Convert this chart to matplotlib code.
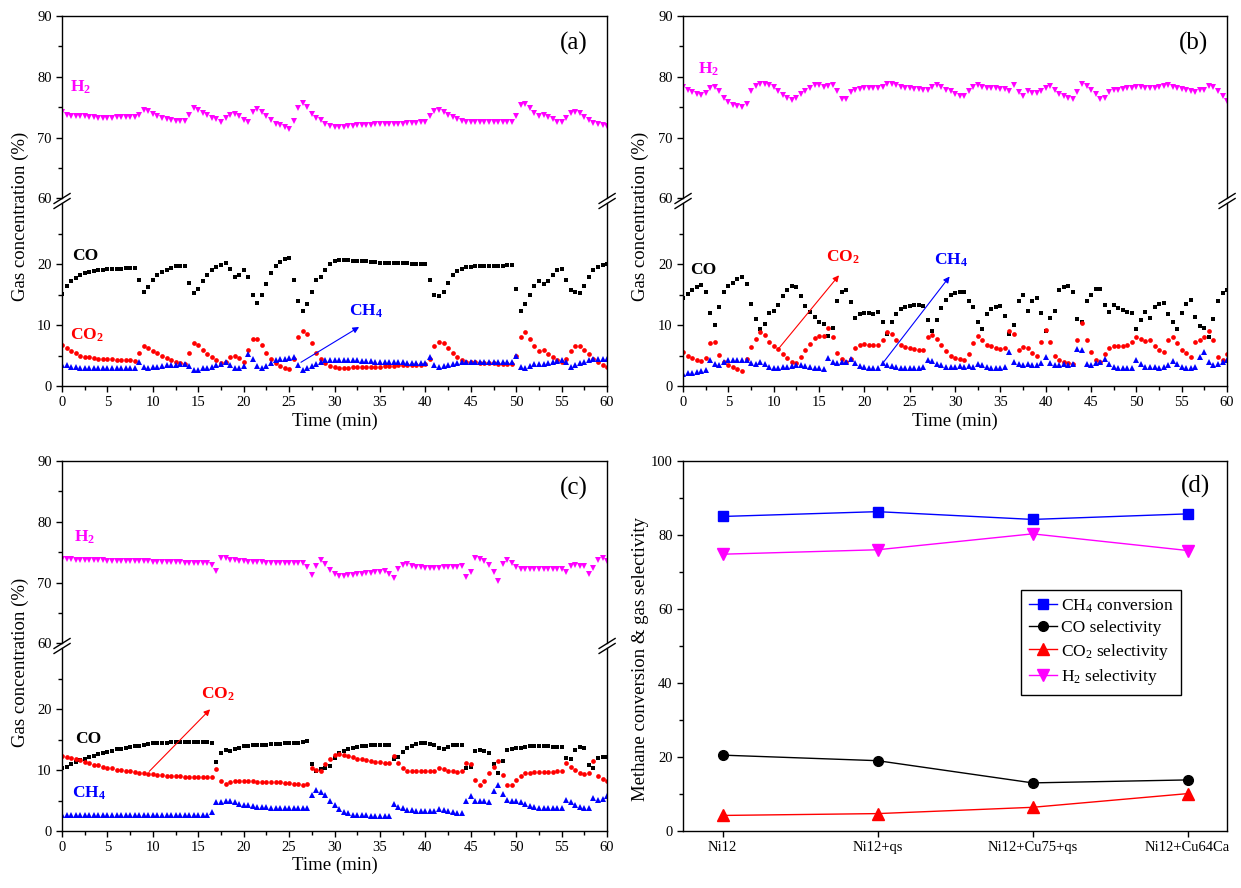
import numpy as np
import matplotlib.pyplot as plt
from matplotlib.lines import Line2D

plt.rcParams['font.family'] = ['Liberation Serif', 'DejaVu Serif']
plt.rcParams['mathtext.fontset'] = 'custom'
plt.rcParams['mathtext.rm'] = 'Liberation Serif'
plt.rcParams['mathtext.it'] = 'Liberation Serif:italic'
plt.rcParams['mathtext.bf'] = 'Liberation Serif:bold'

# Analyser readings, one every 0.5 min from 0 to 60 min (gas concentration, %)
time = np.linspace(0, 60, 121)

# (a) Ni12
a_h2 = [74.2, 73.8, 73.6, 73.6, 73.5, 73.5, 73.4, 73.4, 73.3, 73.3,
        73.3, 73.3, 73.4, 73.4, 73.4, 73.4, 73.4, 73.8, 74.5, 74.4,
        73.9, 73.6, 73.3, 73.1, 72.9, 72.8, 72.7, 72.7, 73.8, 74.9,
        74.6, 74.0, 73.7, 73.3, 73.0, 72.6, 73.2, 73.8, 73.9, 73.6,
        72.9, 72.6, 74.2, 74.7, 74.3, 73.5, 72.9, 72.3, 72.0, 71.8,
        71.5, 72.8, 74.9, 75.7, 75.0, 73.9, 73.3, 72.9, 72.3, 71.9,
        71.7, 71.8, 71.8, 71.9, 71.9, 72.0, 72.0, 72.1, 72.1, 72.2,
        72.2, 72.2, 72.3, 72.3, 72.3, 72.3, 72.4, 72.4, 72.4, 72.5,
        72.5, 73.5, 74.4, 74.6, 74.3, 73.8, 73.4, 73.1, 72.8, 72.6,
        72.6, 72.5, 72.5, 72.5, 72.5, 72.5, 72.5, 72.5, 72.5, 72.5,
        73.6, 75.3, 75.6, 74.8, 74.0, 73.6, 73.7, 73.4, 73.0, 72.6,
        72.5, 73.3, 74.1, 74.2, 74.0, 73.4, 72.9, 72.4, 72.2, 72.0,
        71.9]
a_co = [15.2, 16.5, 17.3, 17.8, 18.2, 18.5, 18.7, 18.9, 19.0, 19.1,
        19.2, 19.2, 19.3, 19.3, 19.4, 19.4, 19.4, 17.5, 15.5, 16.3,
        17.5, 18.2, 18.7, 19.1, 19.4, 19.7, 19.8, 19.8, 17.0, 15.3,
        16.0, 17.3, 18.3, 19.0, 19.5, 19.9, 20.2, 19.2, 17.9, 18.3,
        19.0, 18.0, 15.0, 13.7, 15.0, 16.8, 18.5, 19.7, 20.4, 20.8,
        21.0, 17.5, 14.0, 12.3, 13.5, 15.5, 17.5, 18.0, 19.0, 20.0,
        20.5, 20.7, 20.7, 20.7, 20.6, 20.6, 20.5, 20.5, 20.4, 20.4,
        20.3, 20.3, 20.2, 20.2, 20.2, 20.2, 20.2, 20.1, 20.1, 20.1,
        20.1, 17.5, 15.0, 14.8, 15.5, 17.0, 18.2, 18.9, 19.3, 19.5,
        19.6, 19.7, 19.7, 19.7, 19.8, 19.8, 19.8, 19.8, 19.9, 19.9,
        16.0, 12.3, 13.5, 15.0, 16.5, 17.3, 16.8, 17.2, 18.3, 19.0,
        19.2, 17.5, 15.8, 15.5, 15.3, 16.5, 18.0, 19.0, 19.6, 19.9,
        20.0]
a_co2 = [6.8, 6.2, 5.8, 5.4, 5.0, 4.8, 4.7, 4.6, 4.5, 4.5,
         4.4, 4.4, 4.3, 4.3, 4.2, 4.2, 4.1, 5.5, 6.5, 6.3,
         5.8, 5.4, 5.0, 4.6, 4.3, 4.0, 3.8, 3.7, 5.5, 7.0,
         6.7, 6.0, 5.3, 4.7, 4.2, 3.8, 4.0, 4.8, 5.0, 4.6,
         4.0, 6.0, 7.8, 7.7, 6.8, 5.5, 4.5, 3.8, 3.3, 3.0,
         2.8, 4.5, 8.0, 9.0, 8.5, 7.0, 5.5, 4.5, 3.8, 3.3,
         3.1, 3.0, 3.0, 3.0, 3.1, 3.1, 3.1, 3.1, 3.2, 3.2,
         3.2, 3.3, 3.3, 3.3, 3.4, 3.4, 3.4, 3.5, 3.5, 3.5,
         3.6, 4.5, 6.5, 7.2, 7.0, 6.3, 5.5, 4.8, 4.3, 4.0,
         3.9, 3.9, 3.8, 3.8, 3.8, 3.8, 3.7, 3.7, 3.7, 3.7,
         5.0, 8.0, 8.8, 7.8, 6.5, 5.8, 5.9, 5.3, 4.7, 4.2,
         4.0, 4.5, 5.8, 6.5, 6.5, 6.0, 5.2, 4.5, 3.9, 3.5,
         3.2]
a_ch4 = [3.5, 3.4, 3.2, 3.1, 3.0, 3.0, 3.0, 3.0, 3.0, 3.0,
         3.0, 3.0, 3.0, 3.0, 3.0, 3.0, 3.0, 3.9, 3.1, 3.0,
         3.1, 3.2, 3.3, 3.4, 3.5, 3.5, 3.6, 3.6, 3.3, 2.7,
         2.7, 2.9, 3.0, 3.2, 3.4, 3.6, 3.9, 3.5, 3.0, 3.0,
         3.3, 5.2, 4.5, 3.3, 3.0, 3.3, 3.8, 4.2, 4.4, 4.5,
         4.6, 4.8, 3.5, 2.7, 2.9, 3.3, 3.7, 4.0, 4.2, 4.3,
         4.3, 4.3, 4.3, 4.2, 4.2, 4.2, 4.1, 4.1, 4.1, 4.0,
         4.0, 4.0, 3.9, 3.9, 3.9, 3.9, 3.8, 3.8, 3.8, 3.8,
         3.8, 4.8, 3.5, 3.2, 3.3, 3.5, 3.7, 3.8, 3.9, 3.9,
         3.9, 3.9, 4.0, 4.0, 4.0, 4.0, 4.0, 4.0, 4.0, 4.0,
         4.9, 3.2, 3.0, 3.3, 3.6, 3.7, 3.6, 3.8, 4.0, 4.1,
         4.2, 4.0, 3.2, 3.4, 3.8, 4.0, 4.2, 4.4, 4.5, 4.5,
         4.5]

# (b) Ni12+qs
b_h2 = [78.4, 77.9, 77.5, 77.2, 77.0, 77.3, 78.1, 78.3, 77.7, 76.6,
        75.8, 75.4, 75.2, 75.1, 75.6, 77.7, 78.5, 78.9, 78.8, 78.6,
        78.3, 77.7, 77.0, 76.6, 76.2, 76.5, 77.2, 77.7, 78.2, 78.7,
        78.7, 78.4, 78.5, 78.6, 77.6, 76.4, 76.4, 77.5, 77.9, 78.0,
        78.1, 78.1, 78.1, 78.2, 78.4, 78.8, 78.9, 78.6, 78.4, 78.2,
        78.1, 78.0, 78.0, 77.9, 77.8, 78.4, 78.7, 78.3, 77.9, 77.6,
        77.2, 76.8, 76.9, 77.6, 78.3, 78.6, 78.4, 78.2, 78.1, 78.1,
        78.0, 78.0, 77.6, 78.6, 77.5, 76.8, 77.7, 77.4, 77.3, 77.6,
        78.2, 78.5, 77.9, 77.2, 76.8, 76.6, 76.4, 77.5, 78.9, 78.5,
        77.9, 77.2, 76.3, 76.5, 77.5, 77.8, 77.9, 78.0, 78.1, 78.2,
        78.3, 78.4, 78.2, 78.1, 78.1, 78.3, 78.5, 78.6, 78.4, 78.2,
        78.0, 77.9, 77.6, 77.5, 77.8, 77.8, 78.5, 78.3, 77.6, 76.8,
        76.0]
b_co = [14.4, 15.2, 15.8, 16.2, 16.6, 15.5, 12.0, 10.0, 13.0, 15.5,
        16.5, 17.0, 17.6, 18.0, 16.8, 13.5, 11.0, 9.3, 10.2, 12.0,
        12.4, 13.3, 14.8, 15.8, 16.5, 16.2, 14.8, 13.2, 12.2, 11.3,
        10.6, 10.2, 8.2, 9.5, 14.0, 15.5, 15.8, 13.8, 11.2, 11.8,
        12.0, 12.0, 11.9, 12.1, 10.5, 8.6, 10.5, 11.8, 12.6, 13.0,
        13.2, 13.3, 13.3, 13.2, 10.8, 9.0, 10.8, 12.8, 14.2, 14.9,
        15.3, 15.5, 15.5, 14.0, 13.0, 10.5, 9.4, 11.9, 12.7, 13.0,
        13.1, 11.5, 8.6, 10.0, 14.0, 15.0, 12.4, 14.0, 14.4, 12.0,
        9.0, 11.1, 12.4, 15.8, 16.3, 16.4, 15.5, 11.0, 10.5, 14.0,
        15.0, 16.0, 16.0, 13.3, 12.2, 13.3, 12.9, 12.5, 12.2, 12.0,
        9.4, 10.8, 12.2, 11.1, 13.0, 13.5, 13.6, 11.8, 10.5, 9.4,
        12.0, 13.5, 14.1, 11.3, 9.8, 9.5, 8.1, 11.0, 14.0, 15.3,
        15.8]
b_co2 = [5.6, 5.0, 4.6, 4.3, 4.1, 4.6, 7.0, 7.2, 5.1, 3.9,
         3.5, 3.1, 2.8, 2.5, 4.5, 6.4, 7.7, 8.9, 8.4, 7.2,
         6.6, 6.1, 5.3, 4.6, 4.0, 3.8, 4.8, 5.9, 6.9, 7.9,
         8.2, 8.3, 9.5, 8.1, 5.5, 4.4, 4.0, 4.4, 6.3, 6.8,
         6.9, 6.8, 6.8, 6.7, 7.5, 8.8, 8.5, 7.6, 6.8, 6.4,
         6.2, 6.1, 6.0, 6.0, 8.0, 8.4, 7.8, 6.8, 5.8, 5.0,
         4.6, 4.4, 4.2, 5.2, 7.0, 8.3, 7.5, 6.8, 6.5, 6.3,
         6.1, 6.2, 9.0, 8.5, 6.0, 6.4, 6.2, 5.5, 5.0, 7.3,
         9.2, 7.2, 4.9, 4.3, 4.0, 3.8, 3.7, 7.5, 10.4, 7.5,
         5.6, 4.2, 3.9, 5.3, 6.3, 6.5, 6.5, 6.6, 6.7, 7.2,
         8.1, 7.7, 7.4, 7.5, 6.6, 6.0, 5.6, 7.6, 8.0, 7.0,
         6.0, 5.4, 4.8, 7.2, 7.6, 8.0, 9.0, 7.5, 4.7, 4.2,
         5.3]
b_ch4 = [2.0, 2.1, 2.2, 2.3, 2.4, 2.6, 4.2, 3.6, 3.5, 4.0,
         4.2, 4.3, 4.3, 4.2, 4.2, 3.8, 3.6, 3.9, 3.6, 3.2,
         3.0, 3.0, 3.1, 3.1, 3.3, 3.4, 3.4, 3.3, 3.2, 3.0,
         2.9, 2.8, 4.6, 3.9, 3.8, 3.9, 4.0, 4.5, 3.8, 3.3,
         3.1, 3.0, 3.0, 2.9, 3.8, 3.5, 3.3, 3.1, 3.0, 2.9,
         3.0, 3.0, 3.0, 3.1, 4.3, 4.1, 3.7, 3.4, 3.2, 3.2,
         3.2, 3.3, 3.2, 3.3, 3.2, 3.7, 3.4, 3.1, 3.0, 3.0,
         3.0, 3.1, 5.6, 4.0, 3.6, 3.5, 3.6, 3.5, 3.5, 3.8,
         4.8, 3.8, 3.5, 3.5, 3.6, 3.5, 3.6, 6.1, 5.9, 3.6,
         3.5, 3.8, 3.9, 4.5, 3.6, 3.2, 3.0, 3.0, 2.9, 3.0,
         4.2, 3.6, 3.2, 3.1, 3.1, 3.0, 3.1, 3.4, 4.1, 3.6,
         3.2, 3.0, 3.0, 3.1, 4.8, 5.6, 3.9, 3.4, 3.6, 4.0,
         4.2]

# (c) Ni12+Cu75+qs
c_h2 = [73.9, 73.9, 73.9, 73.8, 73.8, 73.8, 73.8, 73.7, 73.7, 73.7,
        73.6, 73.6, 73.6, 73.5, 73.5, 73.5, 73.5, 73.5, 73.5, 73.5,
        73.4, 73.4, 73.4, 73.4, 73.4, 73.4, 73.4, 73.3, 73.3, 73.3,
        73.3, 73.3, 73.3, 72.9, 71.9, 74.1, 74.0, 73.8, 73.7, 73.6,
        73.5, 73.4, 73.4, 73.4, 73.4, 73.3, 73.3, 73.3, 73.3, 73.3,
        73.3, 73.3, 73.3, 73.3, 72.5, 71.3, 72.8, 73.8, 73.0, 72.0,
        71.4, 71.1, 71.1, 71.2, 71.3, 71.4, 71.5, 71.6, 71.6, 71.7,
        71.8, 71.9, 71.5, 70.7, 72.2, 72.9, 73.0, 72.8, 72.6, 72.5,
        72.4, 72.4, 72.4, 72.4, 72.5, 72.5, 72.6, 72.6, 72.7, 70.9,
        71.8, 74.1, 73.9, 73.5, 72.9, 71.8, 70.3, 73.0, 73.7, 73.2,
        72.5, 72.2, 72.2, 72.2, 72.2, 72.3, 72.3, 72.3, 72.3, 72.3,
        72.2, 71.8, 72.8, 72.9, 72.8, 72.7, 71.4, 72.4, 73.8, 74.0,
        73.5]
c_co = [10.3, 10.6, 11.0, 11.3, 11.6, 11.9, 12.2, 12.4, 12.6, 12.8,
        13.0, 13.2, 13.4, 13.5, 13.7, 13.8, 13.9, 14.0, 14.2, 14.3,
        14.4, 14.4, 14.5, 14.5, 14.6, 14.6, 14.6, 14.6, 14.6, 14.6,
        14.6, 14.6, 14.6, 14.4, 11.3, 12.8, 13.3, 13.1, 13.4, 13.7,
        13.9, 14.0, 14.1, 14.1, 14.2, 14.2, 14.3, 14.3, 14.3, 14.4,
        14.4, 14.5, 14.5, 14.7, 14.8, 11.0, 9.8, 10.2, 10.4, 10.7,
        12.0, 12.8, 13.2, 13.4, 13.6, 13.8, 13.9, 14.0, 14.1, 14.1,
        14.2, 14.2, 14.2, 11.8, 12.1, 13.0, 13.6, 14.0, 14.3, 14.4,
        14.4, 14.3, 14.2, 13.7, 13.4, 13.8, 14.1, 14.2, 14.2, 10.4,
        10.6, 13.1, 13.3, 13.2, 12.9, 11.0, 9.6, 11.5, 13.3, 13.5,
        13.6, 13.7, 13.8, 13.9, 13.9, 13.9, 13.9, 13.9, 13.8, 13.8,
        13.8, 12.0, 11.8, 13.3, 13.8, 13.6, 10.8, 10.4, 12.0, 12.2,
        12.1]
c_co2 = [12.4, 12.2, 12.0, 11.8, 11.6, 11.4, 11.1, 10.9, 10.8, 10.6,
         10.4, 10.3, 10.1, 10.0, 9.9, 9.8, 9.7, 9.6, 9.5, 9.4,
         9.3, 9.2, 9.2, 9.1, 9.0, 9.0, 9.0, 8.9, 8.9, 8.9,
         8.8, 8.8, 8.8, 8.9, 10.2, 8.2, 7.8, 8.1, 8.2, 8.2,
         8.2, 8.2, 8.2, 8.1, 8.1, 8.1, 8.0, 8.0, 8.0, 7.9,
         7.9, 7.8, 7.8, 7.6, 7.7, 10.3, 10.0, 9.8, 11.0, 11.8,
         12.5, 12.7, 12.5, 12.3, 12.1, 11.9, 11.8, 11.6, 11.5, 11.4,
         11.3, 11.2, 11.1, 12.3, 11.2, 10.4, 9.9, 9.9, 9.8, 9.8,
         9.8, 9.8, 9.9, 10.3, 10.2, 9.9, 9.8, 9.7, 9.8, 11.2,
         11.0, 8.4, 7.6, 8.2, 9.5, 10.6, 11.5, 9.2, 7.6, 7.5,
         8.4, 9.0, 9.5, 9.6, 9.7, 9.7, 9.7, 9.7, 9.7, 9.8,
         9.8, 11.1, 10.5, 10.0, 9.6, 9.3, 9.6, 11.5, 9.0, 8.5,
         8.2]
c_ch4 = [2.7, 2.7, 2.6, 2.6, 2.6, 2.6, 2.6, 2.6, 2.6, 2.6,
         2.6, 2.6, 2.6, 2.6, 2.6, 2.6, 2.6, 2.6, 2.6, 2.6,
         2.6, 2.6, 2.6, 2.6, 2.6, 2.6, 2.6, 2.6, 2.6, 2.6,
         2.6, 2.6, 2.7, 3.2, 4.8, 4.7, 4.9, 4.9, 4.7, 4.5,
         4.3, 4.2, 4.1, 4.0, 3.9, 3.9, 3.8, 3.8, 3.8, 3.8,
         3.8, 3.8, 3.8, 3.7, 3.8, 5.9, 6.8, 6.4, 5.9, 4.9,
         4.2, 3.6, 3.2, 2.9, 2.7, 2.6, 2.6, 2.6, 2.5, 2.5,
         2.5, 2.5, 2.5, 4.4, 4.0, 3.7, 3.5, 3.4, 3.3, 3.3,
         3.3, 3.3, 3.3, 3.6, 3.5, 3.3, 3.1, 3.0, 2.9, 5.0,
         5.8, 4.9, 4.9, 4.9, 4.8, 6.5, 7.6, 6.0, 5.1, 5.0,
         4.9, 4.7, 4.4, 4.1, 3.9, 3.8, 3.8, 3.7, 3.7, 3.7,
         3.8, 5.1, 4.8, 4.2, 3.9, 3.7, 3.8, 5.5, 5.1, 5.2,
         5.8]

# (d) summary over the catalysts
catalysts = ['Ni12', 'Ni12+qs', 'Ni12+Cu75+qs', 'Ni12+Cu64Ca']
ch4_conversion = [85.0, 86.3, 84.2, 85.7]
co_selectivity = [20.5, 19.0, 13.0, 13.8]
co2_selectivity = [4.2, 4.7, 6.4, 10.1]
h2_selectivity = [74.8, 76.0, 80.3, 75.8]

MAGENTA = '#ff00ff'
RED = '#ff0000'
BLUE = '#0000ff'
TICK_FS = 10.5
LABEL_FS = 13.5

fig = plt.figure(figsize=(12.41, 8.88), dpi=100)


def style_axis(ax):
    for s in ax.spines.values():
        s.set_linewidth(1.0)
    ax.tick_params(which='both', direction='out', labelsize=TICK_FS, width=1.0,
                   top=False, right=False)
    ax.tick_params(which='major', length=4.5, pad=3)
    ax.tick_params(which='minor', length=3)


def gas_panel(left, bottom, width, height, h2, co, co2, ch4, tag, notes, arrows):
    gap = 5 / 888
    half = (height - gap) / 2
    lo = fig.add_axes([left, bottom, width, half])
    hi = fig.add_axes([left, bottom + half + gap, width, half])

    hi.plot(time, h2, ls='none', marker='v', ms=4.8, color=MAGENTA, mew=0)
    lo.plot(time, co, ls='none', marker='s', ms=3.0, color='black', mew=0)
    lo.plot(time, co2, ls='none', marker='o', ms=3.4, color=RED, mew=0)
    lo.plot(time, ch4, ls='none', marker='^', ms=4.8, color=BLUE, mew=0)

    for ax in (lo, hi):
        style_axis(ax)
        ax.set_xlim(0, 60)
    lo.set_ylim(0, 30)
    hi.set_ylim(60, 90)
    lo.set_yticks([0, 10, 20])
    lo.set_yticks([5, 15, 25], minor=True)
    hi.set_yticks([60, 70, 80, 90])
    hi.set_yticks([65, 75, 85], minor=True)
    lo.set_xticks(np.arange(0, 61, 5))
    lo.set_xticks(np.arange(2.5, 60, 5), minor=True)
    hi.set_xticks([])
    hi.tick_params(which='both', bottom=False, labelbottom=False)
    lo.spines['top'].set_visible(False)
    hi.spines['bottom'].set_visible(False)
    lo.set_xlabel('Time (min)', fontsize=LABEL_FS, labelpad=2)

    # break marks on both spines
    dx, dy = 8 / 1241, 5 / 888
    for x in (left, left + width):
        for y in (bottom + half, bottom + half + gap):
            fig.add_artist(Line2D([x - dx, x + dx], [y - dy, y + dy],
                                  color='black', lw=1.0, transform=fig.transFigure))

    hi.text(56.3, 85.5, tag, fontsize=18, ha='center', va='center')
    for ax_name, x, y, txt, col in notes:
        ax = hi if ax_name == 'hi' else lo
        ax.text(x, y, txt, color=col, fontsize=12.5, fontweight='bold',
                ha='left', va='center')
    for (x0, y0), (x1, y1), col in arrows:
        lo.annotate('', xy=(x1, y1), xytext=(x0, y0),
                    arrowprops=dict(arrowstyle='-|>', color=col, lw=0.8,
                                    mutation_scale=9, shrinkA=0, shrinkB=0))
    return lo, hi


H2_TXT = r'H$_\mathregular{2}$'
CO2_TXT = r'CO$_\mathregular{2}$'
CH4_TXT = r'CH$_\mathregular{4}$'

gas_panel(0.0500, 0.5653, 0.4392, 0.4167, a_h2, a_co, a_co2, a_ch4, '(a)',
          [('hi', 0.9, 78.2, H2_TXT, MAGENTA),
           ('lo', 1.1, 21.3, 'CO', 'black'),
           ('lo', 0.9, 8.4, CO2_TXT, RED),
           ('lo', 31.6, 12.2, CH4_TXT, BLUE)],
          [((26.3, 3.9), (32.7, 9.7), BLUE)])

gas_panel(0.5504, 0.5653, 0.4384, 0.4167, b_h2, b_co, b_co2, b_ch4, '(b)',
          [('hi', 1.6, 81.3, H2_TXT, MAGENTA),
           ('lo', 0.8, 19.0, 'CO', 'black'),
           ('lo', 15.8, 21.2, CO2_TXT, RED),
           ('lo', 27.7, 20.7, CH4_TXT, BLUE)],
          [((10.4, 5.9), (17.2, 18.2), RED),
           ((22.1, 3.9), (29.4, 18.0), BLUE)])

gas_panel(0.0500, 0.0642, 0.4392, 0.4167, c_h2, c_co, c_co2, c_ch4, '(c)',
          [('hi', 1.3, 77.5, H2_TXT, MAGENTA),
           ('lo', 1.4, 15.1, 'CO', 'black'),
           ('lo', 15.3, 22.5, CO2_TXT, RED),
           ('lo', 1.1, 6.2, CH4_TXT, BLUE)],
          [((9.6, 9.8), (16.3, 20.0), RED)])

fig.text(0.016, 0.756, 'Gas concentration (%)', rotation=90, fontsize=LABEL_FS,
         ha='center', va='center')
fig.text(0.516, 0.756, 'Gas concentration (%)', rotation=90, fontsize=LABEL_FS,
         ha='center', va='center')
fig.text(0.016, 0.2545, 'Gas concentration (%)', rotation=90, fontsize=LABEL_FS,
         ha='center', va='center')

# (d) conversion and selectivity per catalyst
ax_d = fig.add_axes([0.5504, 0.0642, 0.4384, 0.4167])
cat = np.arange(len(catalysts))
ax_d.plot(cat, ch4_conversion, color=BLUE, marker='s', ms=7, lw=1,
          label=r'CH$_\mathregular{4}$ conversion')
ax_d.plot(cat, co_selectivity, color='black', marker='o', ms=7, lw=1,
          label='CO selectivity')
ax_d.plot(cat, co2_selectivity, color=RED, marker='^', ms=8, lw=1,
          label=r'CO$_\mathregular{2}$ selectivity')
ax_d.plot(cat, h2_selectivity, color=MAGENTA, marker='v', ms=8, lw=1,
          label=r'H$_\mathregular{2}$ selectivity')
style_axis(ax_d)
ax_d.set_xlim(-0.255, 3.255)
ax_d.set_ylim(0, 100)
ax_d.set_xticks(cat, catalysts)
ax_d.set_yticks(np.arange(0, 101, 20))
ax_d.set_yticks(np.arange(10, 100, 20), minor=True)
ax_d.text(3.05, 93, '(d)', fontsize=18, ha='center', va='center')
fig.text(0.516, 0.258, 'Methane conversion & gas selectivity', rotation=90,
         fontsize=LABEL_FS, ha='center', va='center')
leg = ax_d.legend(loc='upper left', bbox_to_anchor=(0.622, 0.652), fontsize=12.5,
                  frameon=True, fancybox=False, edgecolor='black', framealpha=1,
                  handlelength=1.6, handletextpad=0.2, borderpad=0.45,
                  labelspacing=0.3, numpoints=1, borderaxespad=0)
leg.get_frame().set_linewidth(1.0)

fig.savefig('out.png', dpi=100)
